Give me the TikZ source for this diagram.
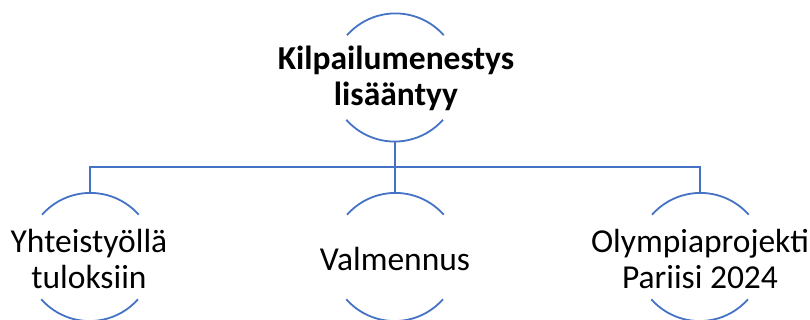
\documentclass[tikz,border=0pt]{standalone}
\usepackage{fontspec}
\setmainfont{Carlito}
\definecolor{smblue}{RGB}{68,114,196}
\begin{document}
\begin{tikzpicture}[x=1pt,y=1pt,
  ring/.style={circle,minimum size=129pt,inner sep=0pt,outer sep=0pt},
  lbl/.style={align=center,inner sep=0pt,font=\fontsize{33.5}{36}\selectfont},
  arcline/.style={draw=smblue,line width=1.8pt},
  conn/.style={draw=smblue,line width=1.8pt}]
\useasboundingbox (0,0) rectangle (810,320);
\node[ring] (top) at (395,242.5) {};
\node[ring] (c1) at (90,63) {};
\node[ring] (c2) at (395,63) {};
\node[ring] (c3) at (700,63) {};
\coordinate (bus) at (395,153);
\foreach \n in {top,c1,c2,c3}{
  \draw[arcline] (\n.41.5) arc[start angle=41.5,end angle=138.5,radius=64.5];
  \draw[arcline] (\n.221.5) arc[start angle=221.5,end angle=318.5,radius=64.5];
}
\draw[conn] (top.south) -- (c2.north);
\draw[conn] (c1.north) -- (c1.north |- bus) -- (c3.north |- bus) -- (c3.north);
\node[lbl,font=\fontsize{33.5}{36}\selectfont\bfseries] (t0) at (396,242) {Kilpailumenestys\\lisääntyy};
\node[lbl] (t1) at (89,61) {Yhteistyöllä\\tuloksiin};
\node[lbl] (t2) at (395,61) {Valmennus};
\node[lbl] (t3) at (700,61) {Olympiaprojekti\\Pariisi 2024};
\end{tikzpicture}
\end{document}
